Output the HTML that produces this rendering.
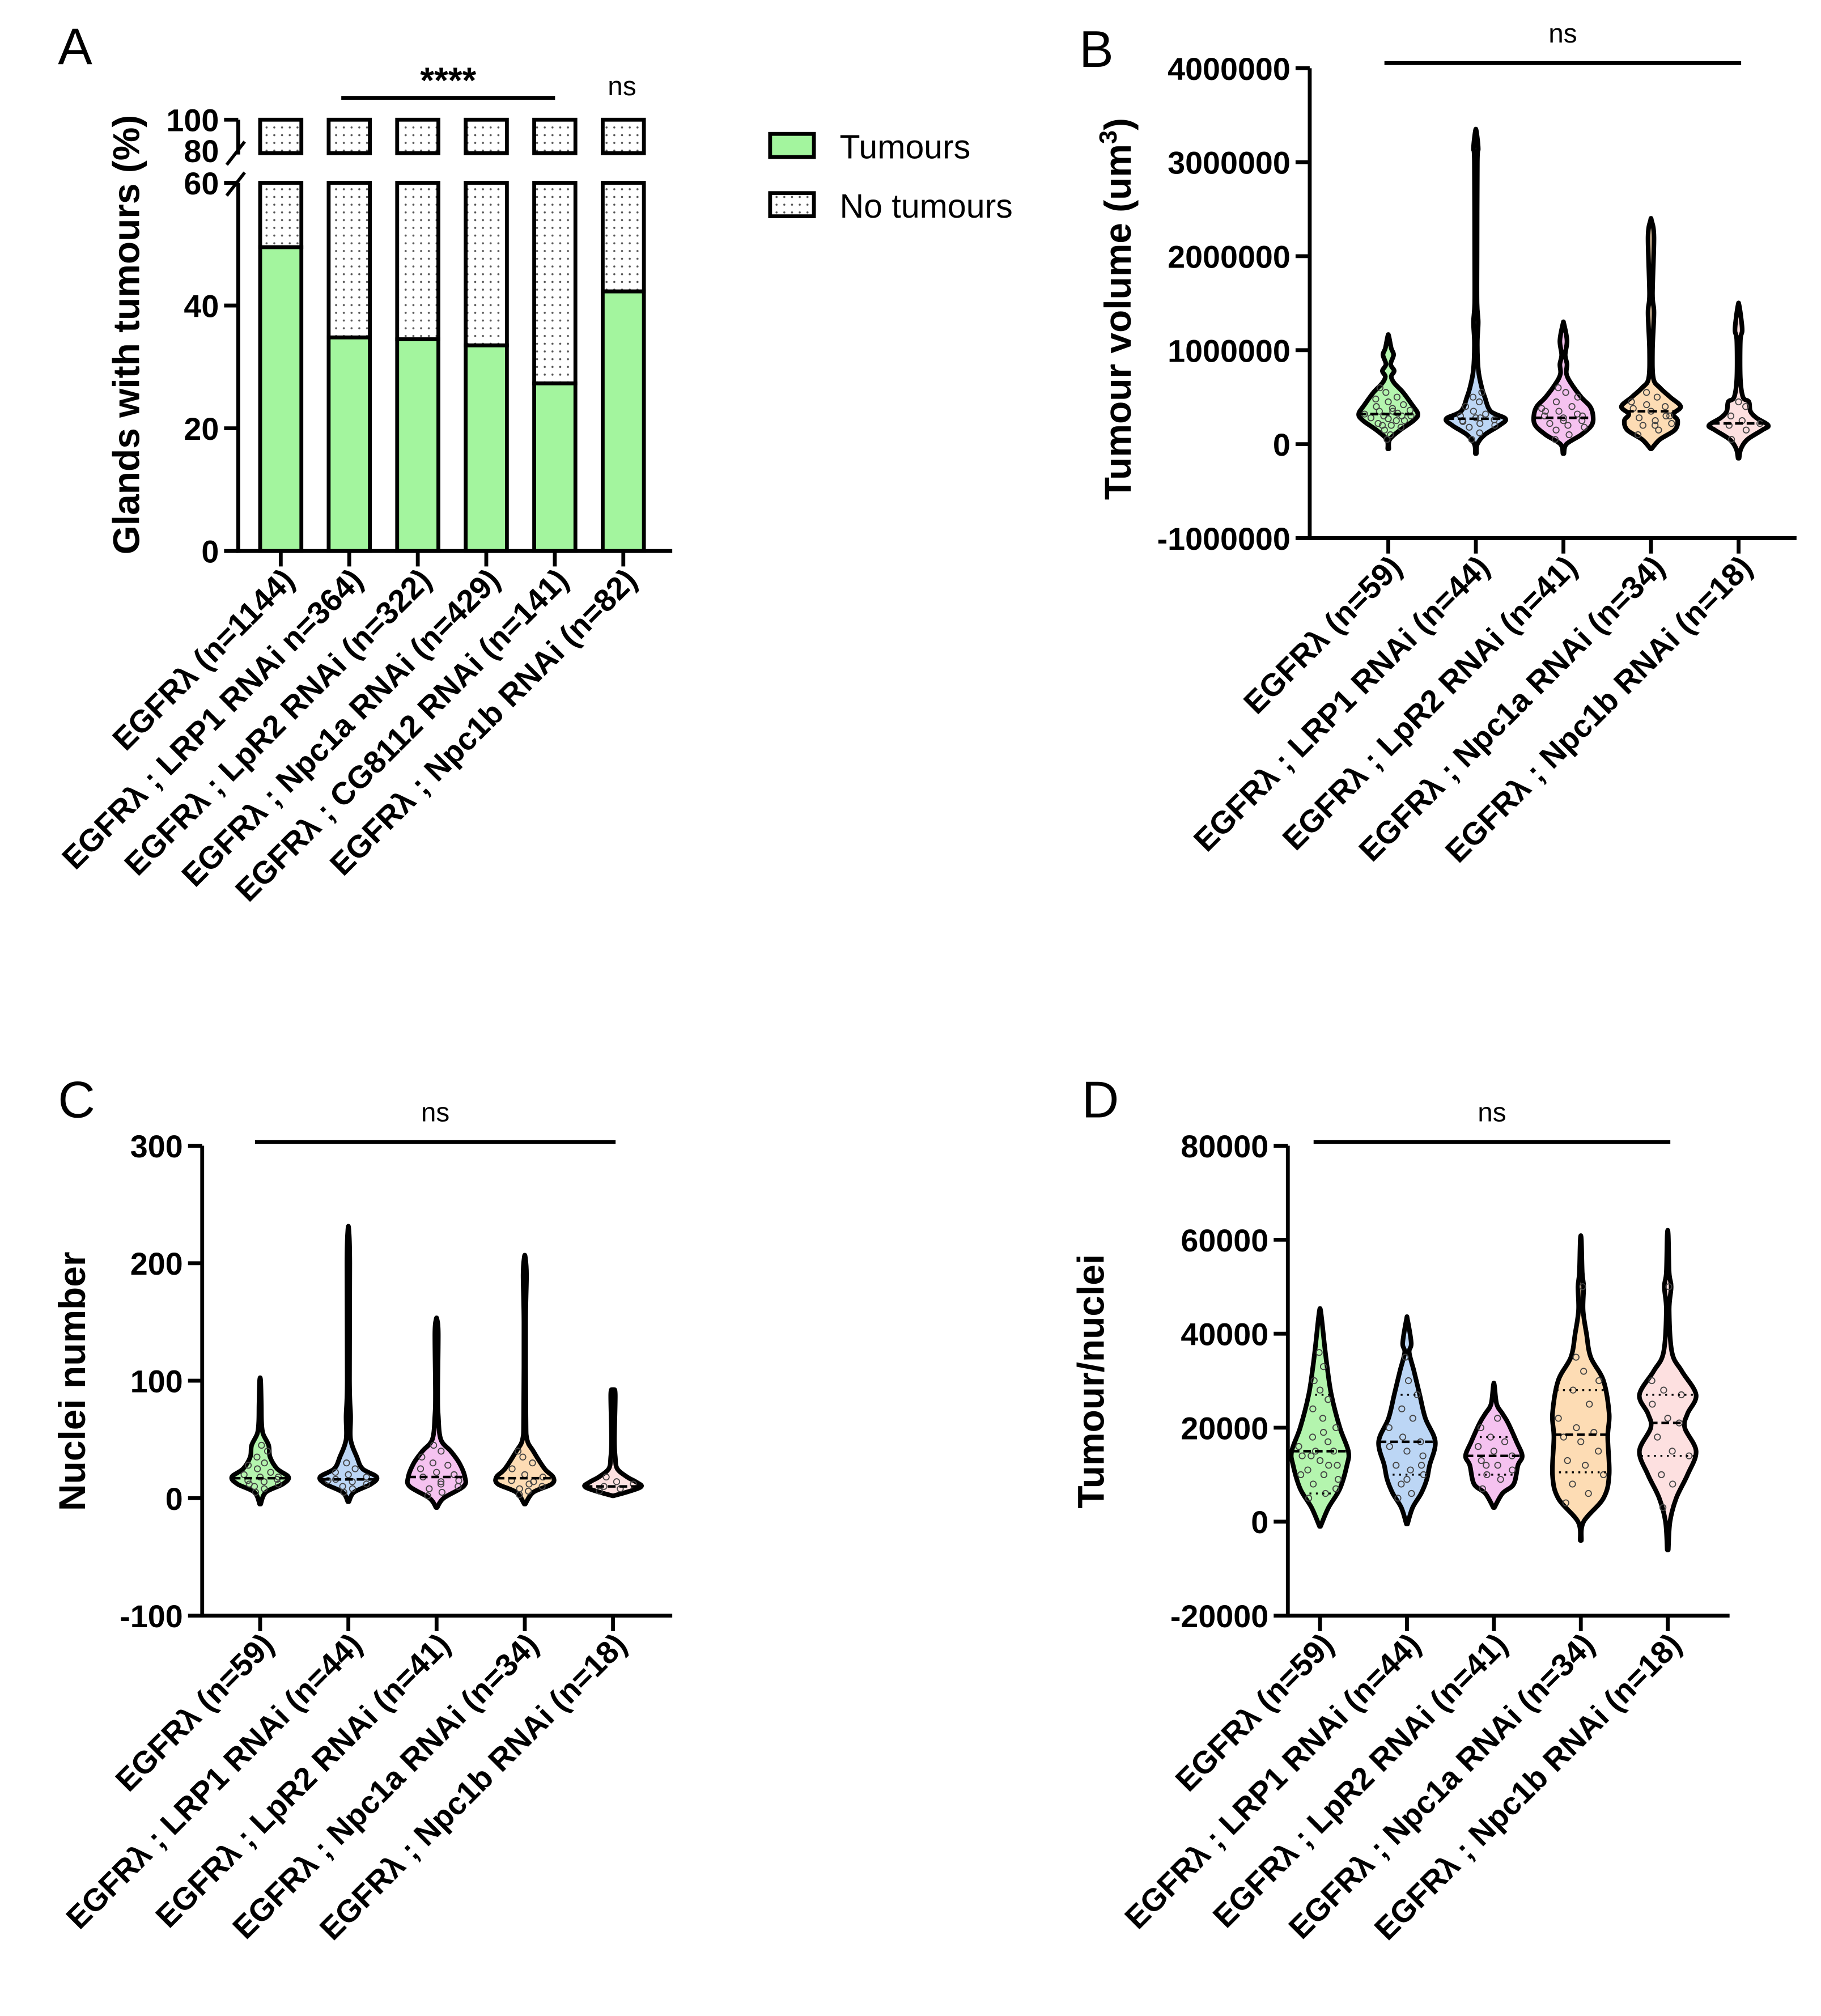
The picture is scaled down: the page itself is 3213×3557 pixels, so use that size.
<!DOCTYPE html>
<html><head><meta charset="utf-8"><style>
html,body{margin:0;padding:0;background:#fff}
svg{display:block}
text{font-family:"Liberation Sans",Arial,sans-serif;fill:#000}
.tick{font-weight:bold;font-size:24.5px}
.ttl{font-weight:bold;font-size:29px}
.xl{font-weight:bold;font-size:24.5px}
.pl{font-size:40px}
</style></head><body>
<svg id="fig" xmlns="http://www.w3.org/2000/svg" width="3213" height="3557" viewBox="0 0 1414 1566" preserveAspectRatio="none">
<defs>
<pattern id="dots" width="6" height="6" patternUnits="userSpaceOnUse"><rect width="6" height="6" fill="#fff"/><circle cx="3" cy="3" r="0.8" fill="#555"/></pattern>
</defs>
<g id="root"></g>
</svg>
<script>
// ---------- Panel A data ----------
const catsA = ["EGFRλ (n=1144)","EGFRλ ; LRP1 RNAi n=364)","EGFRλ ; LpR2 RNAi (n=322)","EGFRλ ; Npc1a RNAi (n=429)","EGFRλ ; CG8112 RNAi (n=141)","EGFRλ ; Npc1b RNAi (n=82)"];
const tumoursA = [49.5, 34.8, 34.5, 33.5, 27.3, 42.3];
const ticksALow = [0, 20, 40, 60];
const ticksAHigh = [80, 100];
// ---------- Violin categories ----------
const catsBCD = ["EGFRλ (n=59)","EGFRλ ; LRP1 RNAi (n=44)","EGFRλ ; LpR2 RNAi (n=41)","EGFRλ ; Npc1a RNAi (n=34)","EGFRλ ; Npc1b RNAi (n=18)"];
const colorsBCD = ["#b4f5ae","#bcd6f5","#f5c2f0","#fddcb4","#fde0e0"];
// Panel B (values in millions um^3): profile values / relative densities
const ticksB = [-1000000, 0, 1000000, 2000000, 3000000, 4000000];
const profValsB = [
 [-0.05,0.05,0.15,0.25,0.32,0.42,0.55,0.65,0.72,0.78,0.85,0.95,1.02,1.15],
 [-0.1,0,0.1,0.2,0.27,0.35,0.5,0.6,0.75,0.9,1.1,1.3,1.5,2,3,3.15,3.33],
 [-0.1,0,0.1,0.2,0.3,0.4,0.5,0.65,0.75,0.85,0.95,1.1,1.28],
 [-0.05,0.05,0.15,0.25,0.32,0.4,0.5,0.6,0.7,1.0,1.4,1.6,2.2,2.38],
 [-0.15,-0.05,0.05,0.15,0.2,0.28,0.35,0.45,0.5,0.7,1.1,1.2,1.3,1.48]];
const profDensB = [
 [0,0.05,0.4,0.85,1,0.8,0.5,0.2,0.1,0.2,0.08,0.18,0.1,0],
 [0,0.05,0.3,0.8,1,0.5,0.3,0.2,0.1,0.06,0.05,0.08,0.04,0.04,0.05,0.08,0],
 [0,0.1,0.6,0.95,1,0.9,0.6,0.25,0.1,0.12,0.06,0.12,0],
 [0,0.3,0.8,0.9,0.75,1,0.65,0.3,0.08,0.05,0.1,0.05,0.1,0],
 [0,0.08,0.3,0.8,1,0.6,0.4,0.35,0.15,0.06,0.06,0.12,0.1,0]];
const dotsB = [
 [0.05,0.1,0.15,0.18,0.2,0.22,0.25,0.27,0.28,0.3,0.3,0.32,0.33,0.35,0.36,0.38,0.4,0.42,0.45,0.48,0.5,0.55,0.6,0.25,0.2,0.3,0.35],
 [0.05,0.12,0.18,0.2,0.22,0.25,0.26,0.28,0.3,0.32,0.35,0.4,0.45,0.5,0.55,0.28,0.24],
 [0.05,0.1,0.15,0.18,0.2,0.22,0.25,0.28,0.3,0.32,0.35,0.38,0.4,0.45,0.5,0.55,0.6,0.3,0.25,0.35],
 [0.1,0.15,0.2,0.22,0.25,0.28,0.3,0.35,0.38,0.4,0.42,0.45,0.5,0.55,0.3,0.2],
 [0.05,0.15,0.2,0.22,0.25,0.3,0.4,0.45]];
const medB = [0.32,0.27,0.28,0.35,0.22];
// Panel C (nuclei)
const ticksC = [-100, 0, 100, 200, 300];
const profValsC = [
 [-5,5,12,18,25,35,45,55,65,80,100],
 [-3,5,12,18,25,35,50,70,100,200,228],
 [-8,0,10,18,30,40,50,70,90,140,152],
 [-5,5,12,18,25,40,50,70,150,190,205],
 [2,6,10,14,18,25,35,50,88,92]];
const profDensC = [
 [0,0.2,0.8,1,0.6,0.35,0.3,0.1,0.05,0.04,0],
 [0,0.2,0.8,1,0.5,0.3,0.08,0.08,0.04,0.05,0],
 [0,0.25,0.95,1,0.8,0.5,0.15,0.06,0.04,0.06,0],
 [0,0.3,0.95,1,0.7,0.3,0.08,0.04,0.03,0.06,0],
 [0,0.6,1,0.8,0.5,0.15,0.08,0.05,0.08,0]];
const dotsC = [
 [5,8,10,12,14,15,16,18,20,22,25,28,30,35,40,45,12,18],
 [5,8,10,12,14,16,18,20,22,25,30,15],
 [2,5,8,10,14,18,20,22,25,28,30,35,40,45,15,12],
 [3,6,8,10,12,15,18,20,25,30,35,40,14],
 [6,8,10,12,14,18]];
const medC = [17,16,18,17,10];
// Panel D (thousands)
const ticksD = [-20000, 0, 20000, 40000, 60000, 80000];
const profValsD = [
 [-1,3,7,12,15,20,27,33,38,42,45],
 [-0.5,3,6,9,12,17,22,27,32,36,38,43],
 [3,6,8,12,14,17,21,23,25,29],
 [-4,0,5,10,18,23,30,35,40,45,50,53,60],
 [-6,0,5,10,15,20,23,27,32,36,45,50,53,61]];
const profDensD = [
 [0,0.3,0.7,0.95,1,0.7,0.4,0.25,0.15,0.08,0],
 [0,0.2,0.5,0.7,0.8,1,0.65,0.45,0.25,0.08,0.15,0],
 [0,0.3,0.7,0.85,1,0.8,0.5,0.3,0.1,0],
 [0,0.1,0.8,1,0.95,1,0.8,0.35,0.2,0.08,0.1,0.05,0],
 [0,0.08,0.3,0.7,1,0.6,0.7,1,0.5,0.15,0.05,0.12,0.05,0]];
const dotsD = [
 [5,6,8,9,10,11,12,13,14,15,15,16,17,18,20,22,24,26,28,30,33,36,10,12,14,7,19],
 [5,6,8,10,11,12,14,15,16,17,18,20,22,24,27,30,35,12,9],
 [7,9,10,11,12,13,14,15,16,17,18,20,22,12],
 [4,6,8,10,12,13,15,17,18,19,20,22,25,28,30,32,35,50],
 [3,8,10,14,15,18,21,22,25,27,28,30,50]];
const medD = [15,17,14,18.5,21];
const qD = [[6,27],[10,27],[10,18],[10.5,28],[14,27]];

// ---------- helpers ----------
const NS = "http://www.w3.org/2000/svg";
const root = document.getElementById("root");
function mk(tag, attrs, parent, txt){
  const e = document.createElementNS(NS, tag);
  for (const k in attrs) e.setAttribute(k, attrs[k]);
  if (txt !== undefined) e.textContent = txt;
  (parent || root).appendChild(e);
  return e;
}
function fmt(v){ return String(v); }

// ---------- Panel A ----------
(function(){
  const g = mk("g", {}); 
  
  
  const ax = 185, y0 = 428, y60 = 142, y80 = 117, y100 = 93;
  const yLow = v => y0 - (v/60)*(y0-y60);
  const yHigh = v => y80 - ((v-80)/20)*(y80-y100);
  const xs = i => 218 + i*53.2;
  const bw = 32;
  const lbl = mk("text",{x:45,y:50,class:"pl"},g,"A");
  
  
  const axl = mk("path",{d:`M${ax} ${y60} V${y0+1.5} M${ax} ${y100} V${y80+3}`,stroke:"#000","stroke-width":3,fill:"none"},g);
  
  
  mk("path",{d:`M176 128 L190 110 M176 152 L190 134`,stroke:"#000","stroke-width":2.5},g);
  ticksALow.forEach(t=>{
    const y=yLow(t);
    mk("line",{x1:ax-11,x2:ax,y1:y,y2:y,stroke:"#000","stroke-width":3},g);
    const tx = mk("text",{x:ax-15,y:y+9,class:"tick","text-anchor":"end"},g,fmt(t));
    
    
  });
  ticksAHigh.forEach(t=>{
    const y=yHigh(t);
    if (t===100) mk("line",{x1:ax-11,x2:ax,y1:y,y2:y,stroke:"#000","stroke-width":3},g);
    const tx = mk("text",{x:ax-15,y:y+9,class:"tick","text-anchor":"end"},g,fmt(t));
    
    
  });
  const xa = mk("line",{x1:ax-1.5,x2:522,y1:y0,y2:y0,stroke:"#000","stroke-width":3},g);
  
  
  tumoursA.forEach((v,i)=>{
    const cx = xs(i);
    const top = mk("rect",{x:cx-bw/2,y:y100,width:bw,height:y80-y100+2,fill:"url(#dots)",stroke:"#000","stroke-width":3},g);
    
    
    const nt = mk("rect",{x:cx-bw/2,y:y60,width:bw,height:yLow(v)-y60,fill:"url(#dots)",stroke:"#000","stroke-width":3},g);
    
    
    const tb = mk("rect",{x:cx-bw/2,y:yLow(v),width:bw,height:y0-yLow(v),fill:"#a3f59e",stroke:"#000","stroke-width":3},g);
    
    
    mk("line",{x1:cx,x2:cx,y1:y0,y2:y0+12,stroke:"#000","stroke-width":3},g);
    const xl = mk("text",{x:cx+12,y:y0+24,class:"xl","text-anchor":"end",transform:`rotate(-45 ${cx+12} ${y0+24})`},g,catsA[i]);
    
    
  });
  const yt = mk("text",{x:0,y:0,class:"ttl","text-anchor":"middle",transform:"translate(108 260) rotate(-90)"},g,"Glands with tumours (%)");
  
  
  const sl = mk("line",{x1:265,x2:431,y1:76,y2:76,stroke:"#000","stroke-width":3},g);
  
  
  const st = mk("text",{x:348,y:72,"font-size":"28","font-weight":"bold","text-anchor":"middle"},g,"****");
  
  
  const ns = mk("text",{x:483,y:74,"font-size":"21","text-anchor":"middle"},g,"ns");
  
  
  const l1 = mk("rect",{x:598,y:104,width:34,height:18,fill:"#a3f59e",stroke:"#000","stroke-width":3},g);
  
  
  const lt1 = mk("text",{x:652,y:123,"font-size":"26"},g,"Tumours");
  
  
  const l2 = mk("rect",{x:598,y:150,width:34,height:18,fill:"url(#dots)",stroke:"#000","stroke-width":3},g);
  
  
  const lt2 = mk("text",{x:652,y:169,"font-size":"26"},g,"No tumours");
  
  
})();

// ---------- Violin panel ----------
function violinPanel(o){
  const g = mk("g", {});
  
  
  const yMin = o.ticks[0], yMax = o.ticks[o.ticks.length-1];
  const Y = v => o.yBot - (v - yMin)/(yMax - yMin)*(o.yBot - o.yTop);
  const X = i => o.x0 + i*o.dx;
  const pl = mk("text",{x:o.labX,y:o.labY,class:"pl"},g,o.label);
  
  
  const ya = mk("line",{x1:o.ax,x2:o.ax,y1:o.yTop,y2:o.yBot+1.5,stroke:"#000","stroke-width":3},g);
  
  
  const xa = mk("line",{x1:o.ax-1.5,x2:o.xEnd,y1:o.yBot,y2:o.yBot,stroke:"#000","stroke-width":3},g);
  
  
  o.ticks.forEach(t=>{
    const y = Y(t);
    mk("line",{x1:o.ax-11,x2:o.ax,y1:y,y2:y,stroke:"#000","stroke-width":3},g);
    const tx = mk("text",{x:o.ax-15,y:y+9,class:"tick","text-anchor":"end"},g,fmt(t));
    
    
  });
  const yt = mk("text",{x:0,y:0,class:"ttl","text-anchor":"middle",transform:`translate(${o.titX} ${o.titY}) rotate(-90)`},g);
  
  
  yt.textContent = o.title;
  if (o.sup){ mk("tspan",{dy:"-11","font-size":"19"},yt,o.sup); mk("tspan",{dy:"11"},yt,")"); }
  const sb = mk("line",{x1:o.sigX1,x2:o.sigX2,y1:o.sigY,y2:o.sigY,stroke:"#000","stroke-width":3},g);
  
  
  const ns = mk("text",{x:(o.sigX1+o.sigX2)/2,y:o.sigY-16,"font-size":"21","text-anchor":"middle"},g,"ns");
  
  

  catsBCD.forEach((c,i)=>{
    const cx = X(i);
    const vals = o.pv[i].map(v=>v*o.unit), dens = o.pd[i];
    const hw = d => Math.max(0.4, d*o.maxW);
    const interp = v => {
      for (let k=0;k<vals.length-1;k++){
        if (v>=vals[k] && v<=vals[k+1]){ const t=(v-vals[k])/(vals[k+1]-vals[k]); return dens[k]+(dens[k+1]-dens[k])*t; }
      }
      return 0;
    };
    const right = vals.map((v,k)=>[cx+hw(dens[k]), Y(v)]);
    const left = vals.map((v,k)=>[cx-hw(dens[k]), Y(v)]).reverse();
    const pts = right.concat(left);
    let d = `M${pts[0][0]} ${pts[0][1]}`;
    for (let k=1;k<pts.length;k++){
      const p0=pts[Math.max(0,k-2)], p1=pts[k-1], p2=pts[k], p3=pts[Math.min(pts.length-1,k+1)];
      const c1=[p1[0]+(p2[0]-p0[0])/6, p1[1]+(p2[1]-p0[1])/6];
      const c2=[p2[0]-(p3[0]-p1[0])/6, p2[1]-(p3[1]-p1[1])/6];
      d += ` C${c1[0]} ${c1[1]} ${c2[0]} ${c2[1]} ${p2[0]} ${p2[1]}`;
    }
    d += "Z";
    const vp = mk("path",{d:d,fill:colorsBCD[i],stroke:"#000","stroke-width":3.6,"stroke-linejoin":"round"},g);
    
    
    o.dots[i].forEach((v,k)=>{
      const w = hw(interp(v*o.unit))*0.8;
      const off = ((k*7)%11/10 - 0.5)*2*w;
      const dot = mk("circle",{cx:cx+off,cy:Y(v*o.unit),r:2.3,fill:"none",stroke:"#444","stroke-width":0.8},g);
      
      
    });
    const mv = o.med[i]*o.unit, mw = hw(interp(mv));
    const ml = mk("line",{x1:cx-mw,x2:cx+mw,y1:Y(mv),y2:Y(mv),stroke:"#000","stroke-width":2,"stroke-dasharray":"6 3"},g);
    
    
    if (o.q){
      o.q[i].forEach(qv=>{
        const v=qv*o.unit, w=hw(interp(v));
        const ql = mk("line",{x1:cx-w,x2:cx+w,y1:Y(v),y2:Y(v),stroke:"#000","stroke-width":1.5,"stroke-dasharray":"1.5 3.5"},g);
        
        
      });
    }
    mk("line",{x1:cx,x2:cx,y1:o.yBot,y2:o.yBot+12,stroke:"#000","stroke-width":3},g);
    const xl = mk("text",{x:cx+12,y:o.yBot+24,class:"xl","text-anchor":"end",transform:`rotate(-45 ${cx+12} ${o.yBot+24})`},g,c);
    
    
  });
}

violinPanel({name:"panel-b",label:"B",labX:838,labY:52,ax:1017,yTop:53,yBot:418,xEnd:1395,x0:1078,dx:68,
  ticks:ticksB,unit:1e6,pv:profValsB,pd:profDensB,dots:dotsB,med:medB,maxW:23,
  title:"Tumour volume (um",sup:"3",titX:878,titY:240,sigX1:1075,sigX2:1352,sigY:49});
violinPanel({name:"panel-c",label:"C",labX:45,labY:868,ax:157,yTop:890,yBot:1255,xEnd:522,x0:202,dx:68.5,
  ticks:ticksC,unit:1,pv:profValsC,pd:profDensC,dots:dotsC,med:medC,maxW:22,
  title:"Nuclei number",titX:66,titY:1073,sigX1:198,sigX2:478,sigY:887});
violinPanel({name:"panel-d",label:"D",labX:840,labY:868,ax:1000,yTop:890,yBot:1255,xEnd:1343,x0:1025,dx:67.5,
  ticks:ticksD,unit:1000,pv:profValsD,pd:profDensD,dots:dotsD,med:medD,q:qD,maxW:22,
  title:"Tumour/nuclei",titX:857,titY:1073,sigX1:1020,sigX2:1297,sigY:887});
</script>
</body></html>
